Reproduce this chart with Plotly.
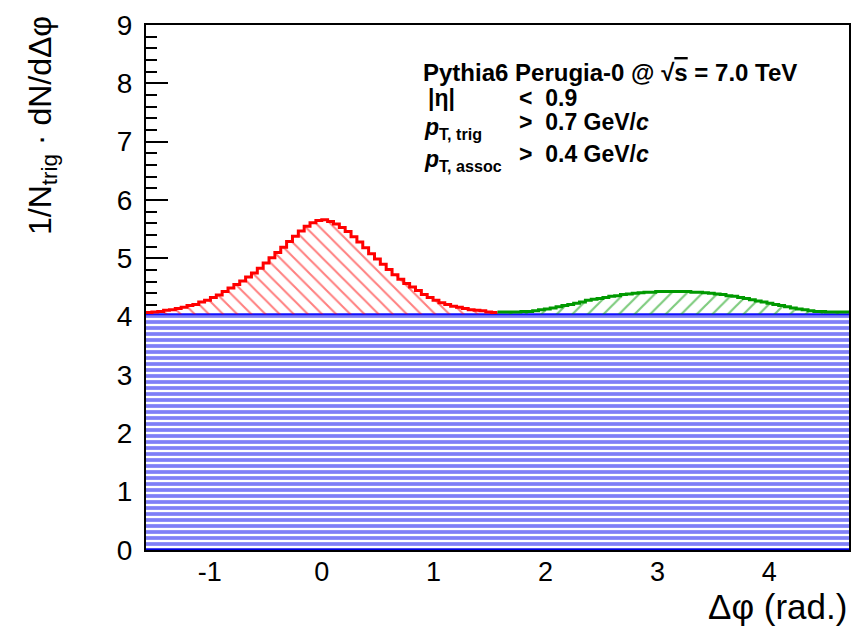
import math
import plotly.graph_objects as go

# ---------------- data ----------------
PI = math.pi
n_bins_side = 60
bin_w = PI / n_bins_side

pedestal = 4.04  # flat (blue) pedestal level

# near-side (red) histogram, bins from -pi/2 to +pi/2 (3 degree bins)
near_vals = [4.07, 4.08, 4.09, 4.11, 4.12, 4.14, 4.16, 4.19, 4.21, 4.25,
             4.28, 4.33, 4.37, 4.43, 4.49, 4.55, 4.61, 4.68, 4.75, 4.83,
             4.92, 5.01, 5.10, 5.19, 5.29, 5.38, 5.47, 5.55, 5.61, 5.65,
             5.66, 5.63, 5.59, 5.53, 5.46, 5.37, 5.28, 5.18, 5.08, 4.99,
             4.90, 4.81, 4.72, 4.64, 4.57, 4.51, 4.45, 4.38, 4.33, 4.28,
             4.24, 4.21, 4.18, 4.16, 4.14, 4.12, 4.11, 4.10, 4.08, 4.07]

# away-side (green) histogram, bins from +pi/2 to 3pi/2
away_vals = [4.08, 4.08, 4.08, 4.08, 4.09, 4.09, 4.10, 4.12, 4.13, 4.15,
             4.17, 4.19, 4.21, 4.23, 4.25, 4.28, 4.30, 4.31, 4.33, 4.35,
             4.36, 4.38, 4.39, 4.40, 4.41, 4.42, 4.42, 4.43, 4.43, 4.43,
             4.43, 4.43, 4.43, 4.42, 4.42, 4.41, 4.40, 4.39, 4.38, 4.36,
             4.35, 4.33, 4.31, 4.29, 4.27, 4.25, 4.23, 4.21, 4.19, 4.17,
             4.15, 4.13, 4.12, 4.10, 4.09, 4.09, 4.08, 4.08, 4.08, 4.08]

x_tick_vals = [-1, 0, 1, 2, 3, 4]
x_tick_text = ["-1", "0", "1", "2", "3", "4"]
y_tick_vals = [0, 1, 2, 3, 4, 5, 6, 7, 8, 9]

x_min, x_max = -PI / 2, 3 * PI / 2

near_edges = [-PI / 2 + i * bin_w for i in range(n_bins_side + 1)]
away_edges = [PI / 2 + i * bin_w for i in range(n_bins_side + 1)]

# ---------------- geometry helpers (pixel -> paper) ----------------
W, H = 861, 631
L, R, T, B = 146, 851, 17, 550


def px(x):
    return (x - L) / (R - L)


def py(y):
    return (B - y) / (B - T)


FONT = "Liberation Sans, Arial, Helvetica, sans-serif"

fig = go.Figure()

# blue pedestal with horizontal hatching
fig.add_trace(go.Scatter(
    x=[x_min, x_max], y=[pedestal, pedestal], mode="lines",
    line=dict(color="#1010ff", width=2), fill="tozeroy",
    fillcolor="#0000f0",
    fillpattern=dict(shape="-", fgcolor="#0000f0", bgcolor="white",
                     size=6, solidity=0.62),
    hoverinfo="skip", showlegend=False))
fig.add_trace(go.Scatter(
    x=[x_min, x_max], y=[0, 0], mode="lines",
    line=dict(color="#0000dd", width=3), hoverinfo="skip", showlegend=False))


def add_hist(edges, vals, color, shape, size):
    # baseline
    fig.add_trace(go.Scatter(
        x=[edges[0], edges[-1]], y=[pedestal, pedestal], mode="lines",
        line=dict(width=0, color="rgba(0,0,0,0)"), hoverinfo="skip",
        showlegend=False))
    fig.add_trace(go.Scatter(
        x=edges, y=list(vals) + [vals[-1]], mode="lines",
        line=dict(color=color, width=3, shape="hv"), fill="tonexty",
        fillcolor=color,
        fillpattern=dict(shape=shape, fgcolor=color,
                         bgcolor="rgba(0,0,0,0)", size=size, solidity=0.2),
        hoverinfo="skip", showlegend=False))


add_hist(near_edges, near_vals, "#ff0000", "\\", 10)
add_hist(away_edges, away_vals, "#009900", "/", 11)

# ---------------- annotations ----------------
ann = []
ann.append(dict(text="1/N<sub>trig</sub> · dN/dΔφ", textangle=-90,
                x=px(42), y=py(6), xref="paper", yref="paper",
                xanchor="center", yanchor="top", showarrow=False,
                font=dict(family=FONT, size=32, color="black")))
ann.append(dict(text="Δφ (rad.)", x=px(851), y=py(607), xref="paper",
                yref="paper", xanchor="right", yanchor="middle",
                showarrow=False, font=dict(family=FONT, size=35, color="black")))

rows = [
    (423, 65, 24, "<b>Pythia6 Perugia-0 @ √<span style='text-decoration:overline'>s</span> = 7.0 TeV</b>"),
    (428, 91, 23, "<b>|η|</b>"),
    (519, 91, 23, "<b>&lt;\u00a0 0.9</b>"),
    (424, 122, 23, "<b><i>p</i></b><sub><b>T, trig</b></sub>"),
    (519, 115, 23, "<b>&gt;\u00a0 0.7 GeV/<i>c</i></b>"),
    (424, 155, 23, "<b><i>p</i></b><sub><b>T, assoc</b></sub>"),
    (519, 148, 23, "<b>&gt;\u00a0 0.4 GeV/<i>c</i></b>"),
]
for x0, y0, fs, t in rows:
    ann.append(dict(text=t, x=px(x0), y=py(y0), xref="paper", yref="paper",
                    xanchor="left", yanchor="middle", showarrow=False,
                    borderpad=0,
                    font=dict(family=FONT, size=fs, color="black")))

fig.update_layout(
    width=W, height=H,
    margin=dict(l=L, r=W - R, t=T, b=H - B, pad=0),
    paper_bgcolor="white", plot_bgcolor="white",
    annotations=ann,
    xaxis=dict(range=[x_min, x_max], tickvals=x_tick_vals,
               ticktext=x_tick_text,
               ticks="inside", ticklen=18, tickwidth=2, tickcolor="black",
               showgrid=False, zeroline=False, showline=True, mirror=True,
               linecolor="black", linewidth=2, layer="below traces",
               tickfont=dict(family=FONT, size=27, color="black"),
               ticklabelstandoff=-3),
    yaxis=dict(range=[0, 9], tickvals=y_tick_vals,
               ticks="inside", ticklen=22, tickwidth=2, tickcolor="black",
               minor=dict(dtick=0.2, ticks="inside", ticklen=11,
                          tickwidth=1.5, tickcolor="black"),
               showgrid=False, zeroline=False, showline=True, mirror=True,
               linecolor="black", linewidth=2, layer="below traces",
               tickfont=dict(family=FONT, size=28, color="black"),
               ticklabelstandoff=6),
)

fig.write_html("out.html")
